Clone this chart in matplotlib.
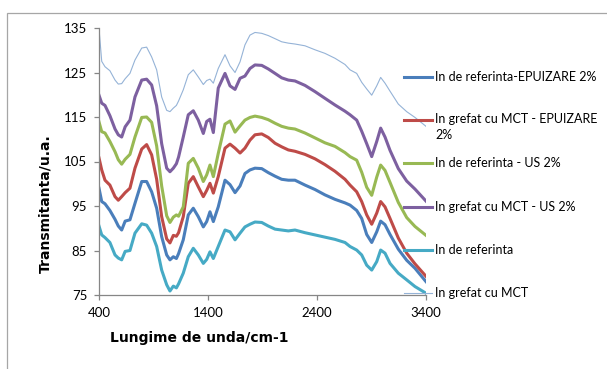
import matplotlib
matplotlib.use("Agg")
import matplotlib.pyplot as plt
from matplotlib.patches import Rectangle
from matplotlib.lines import Line2D

# wavenumber grid (cm-1)
wavenumber = [400, 425, 455, 500, 547, 577, 608, 640, 684, 730,
              792, 837, 883, 929, 975, 1021, 1051, 1082, 1110, 1130,
              1173, 1219, 1265, 1311, 1357, 1388, 1418, 1449, 1494, 1556,
              1602, 1648, 1694, 1739, 1785, 1831, 1893, 1953, 2015, 2076,
              2137, 2198, 2290, 2382, 2473, 2565, 2657, 2703, 2764, 2810,
              2856, 2902, 2948, 2984, 3024, 3070, 3146, 3223, 3299, 3400]

ref_epuizare = [99.0, 96.0, 95.5, 94.0, 92.0, 90.5, 89.6, 91.6, 91.9, 95.6,
                100.5, 100.5, 98.2, 94.5, 88.1, 84.0, 82.9, 83.6, 83.2, 84.3,
                87.4, 93.0, 94.5, 92.6, 90.3, 91.5, 93.7, 91.5, 94.8, 100.8,
                99.8, 98.0, 99.5, 102.3, 103.1, 103.5, 103.4, 102.5, 101.7, 101.0,
                100.8, 100.8, 99.7, 98.7, 97.5, 96.5, 95.7, 95.2, 94.0, 92.2,
                88.6, 86.8, 89.2, 91.6, 90.8, 88.6, 85.3, 82.8, 81.0, 78.0]

mct_epuizare = [105.8, 103.1, 100.8, 99.7, 97.1, 96.3, 97.1, 98.0, 99.0, 103.5,
                107.8, 108.8, 106.5, 101.0, 92.6, 87.6, 86.7, 88.4, 88.2, 89.0,
                92.6, 100.1, 101.6, 99.3, 97.1, 98.5, 100.1, 97.9, 101.6, 108.0,
                108.9, 108.0, 106.9, 108.0, 109.8, 111.0, 111.2, 110.4, 109.1, 108.3,
                107.6, 107.3, 106.6, 105.6, 104.3, 102.8, 101.0, 99.7, 98.2, 96.0,
                93.0, 90.9, 93.4, 96.0, 94.8, 92.2, 87.8, 84.4, 82.0, 79.2]

ref_us = [113.9, 111.7, 111.4, 109.5, 107.2, 105.4, 104.4, 105.5, 106.6, 110.5,
          114.9, 115.0, 113.8, 108.5, 99.5, 92.8, 91.3, 92.5, 93.0, 92.7,
          94.8, 104.6, 105.7, 103.5, 100.5, 102.0, 104.2, 101.6, 106.8, 113.4,
          114.1, 111.6, 113.0, 114.3, 114.9, 115.2, 114.9, 114.4, 113.6, 112.9,
          112.5, 112.3, 111.4, 110.3, 109.2, 108.4, 107.0, 106.1, 105.3, 102.6,
          99.2, 97.4, 101.5, 104.2, 103.0, 100.3, 95.8, 92.4, 90.4, 88.4]

mct_us = [119.9, 118.1, 117.6, 115.3, 112.3, 111.0, 110.5, 112.8, 114.3, 119.5,
          123.3, 123.5, 122.2, 117.5, 109.0, 103.5, 102.7, 103.5, 104.5, 106.0,
          110.5, 115.5, 116.4, 114.3, 111.3, 114.0, 114.5, 111.5, 121.5, 124.8,
          122.0, 121.2, 123.7, 124.2, 125.9, 126.7, 126.6, 125.8, 124.8, 123.8,
          123.3, 123.1, 122.1, 120.7, 119.2, 117.7, 116.3, 115.5, 114.3, 111.8,
          109.0, 106.1, 109.5, 112.5, 110.5, 107.5, 103.4, 100.6, 98.8, 96.1]

ref = [90.5, 88.5, 87.9, 86.8, 84.0, 83.3, 82.9, 84.8, 85.0, 88.9,
       91.0, 90.7, 88.9, 85.9, 80.6, 77.3, 75.9, 77.0, 76.6, 77.5,
       79.9, 83.6, 85.5, 84.0, 82.1, 83.0, 84.7, 83.2, 85.9, 89.6,
       89.2, 87.4, 88.9, 90.3, 90.9, 91.4, 91.3, 90.5, 89.8, 89.6,
       89.4, 89.6, 89.0, 88.5, 88.0, 87.5, 86.8, 85.9, 85.1, 84.0,
       81.7, 80.6, 82.5, 85.1, 84.4, 82.1, 79.9, 78.4, 76.9, 75.4]

mct = [134.9, 127.5, 126.3, 125.4, 123.3, 122.4, 122.5, 123.6, 124.8, 127.8,
       130.5, 130.7, 128.5, 125.6, 119.5, 116.5, 116.2, 117.0, 117.6, 118.6,
       121.1, 124.5, 125.6, 124.0, 122.3, 123.2, 123.5, 122.6, 125.9, 129.0,
       126.5, 125.0, 127.4, 131.2, 133.4, 134.0, 133.8, 133.3, 132.6, 131.9,
       131.6, 131.4, 131.0, 130.1, 129.3, 128.2, 126.8, 125.6, 124.8, 122.8,
       121.3, 119.9, 122.0, 123.9, 122.6, 120.8, 117.9, 116.2, 114.9, 112.9]

labels = ["In de referinta-EPUIZARE 2%", "In grefat cu MCT - EPUIZARE\n2%",
          "In de referinta - US 2%", "In grefat cu MCT - US 2%",
          "In de referinta", "In grefat cu MCT"]
series = [ref_epuizare, mct_epuizare, ref_us, mct_us, ref, mct]
colors = ["#4A7EBB", "#BE4B48", "#98B954", "#7D60A0", "#46AAC5", "#95B3D7"]
widths = [2.2, 2.2, 2.2, 2.2, 2.2, 0.8]

W, H = 607, 369
fig = plt.figure(figsize=(W / 100, H / 100), dpi=100)

# chart area border
fig.patches.append(Rectangle((7 / W, -0.05), 1.2, (H - 13) / H + 0.05,
                             transform=fig.transFigure, fill=False,
                             edgecolor="#A6A6A6", linewidth=0.9))

ax = fig.add_axes([99 / W, 1 - 295 / H, (426 - 99) / W, (295 - 28) / H])
for ys, c, lw in zip(series, colors, widths):
    ax.plot(wavenumber, ys, color=c, linewidth=lw, solid_joinstyle="round")

ax.set_xlim(400, 3400)
ax.set_ylim(75, 135)
ax.set_xticks([400, 1400, 2400, 3400])
ax.set_yticks(range(75, 136, 10))
for s in ["top", "right"]:
    ax.spines[s].set_visible(False)
for s in ["left", "bottom"]:
    ax.spines[s].set_color("#868686")
    ax.spines[s].set_linewidth(0.9)
ax.tick_params(direction="out", length=3.5, width=0.9, color="#868686",
               labelsize=9.5, pad=5)
for lab in ax.get_xticklabels() + ax.get_yticklabels():
    lab.set_family(["Lato", "DejaVu Sans"])
ax.set_facecolor("none")

fig.text(199 / W, 1 - 338 / H, "Lungime de unda/cm-1", ha="center", va="center",
         fontsize=10, fontweight="bold", family="DejaVu Sans")
fig.text(45 / W, 1 - 204 / H, "Transmitanta/u.a.", ha="center", va="center",
         rotation=90, fontsize=10, fontweight="bold", family="DejaVu Sans")

# legend drawn by hand to follow the original layout
for i, (lab, c, lw) in enumerate(zip(labels, colors, widths)):
    y = 1 - (77 + 43.2 * i) / H
    fig.add_artist(Line2D([404 / W, 432 / W], [y, y], color=c, linewidth=lw,
                          transform=fig.transFigure))
    if "\n" in lab:
        fig.text(435 / W, y + 7 / H, lab, ha="left", va="top", fontsize=9,
                 family=["Lato", "DejaVu Sans"], linespacing=1.35)
    else:
        fig.text(435 / W, y, lab, ha="left", va="center", fontsize=9,
                 family=["Lato", "DejaVu Sans"])

fig.savefig("out.png", dpi=100)
